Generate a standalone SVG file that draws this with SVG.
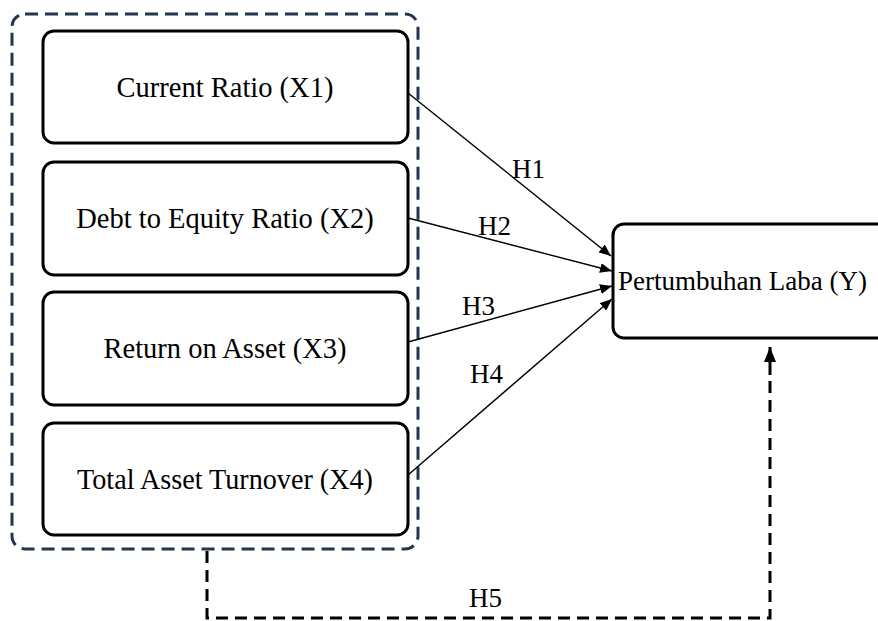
<svg xmlns="http://www.w3.org/2000/svg" width="878" height="621" viewBox="0 0 878 621">
<style>
  .node { fill: #ffffff; stroke: #000000; stroke-width: 3; }
  .lbl { font-family: "Liberation Serif", "DejaVu Serif", serif; font-size: 28.5px; fill: #000000; }
  .hl { font-family: "Liberation Serif", "DejaVu Serif", serif; font-size: 27px; fill: #000000; }
  .conn { stroke: #000000; stroke-width: 1.4; fill: none; }
  .group { fill: none; stroke: #22374f; stroke-width: 3; stroke-dasharray: 13 7; }
  .h5 { fill: none; stroke: #000000; stroke-width: 3; stroke-dasharray: 12 7; }
</style>
<defs>
  <marker id="arr" viewBox="0 0 12 10" refX="12" refY="5" markerWidth="12" markerHeight="10" markerUnits="userSpaceOnUse" orient="auto">
    <path d="M0,0 L12,5 L0,10 Z" fill="#000000"/>
  </marker>
  <marker id="arrBig" viewBox="0 0 15 12" refX="15" refY="6" markerWidth="15" markerHeight="12" markerUnits="userSpaceOnUse" orient="auto">
    <path d="M0,0 L15,6 L0,12 Z" fill="#000000"/>
  </marker>
</defs>
<rect id="group-x" class="group" x="12" y="14" width="406" height="535" rx="13" ry="13"/>
<g id="x1">
  <rect class="node" x="43" y="31" width="365" height="112" rx="11" ry="11"/>
  <text class="lbl" x="225" y="97" text-anchor="middle">Current Ratio (X1)</text>
</g>
<g id="x2">
  <rect class="node" x="43" y="162" width="365" height="113" rx="11" ry="11"/>
  <text class="lbl" x="225" y="228" text-anchor="middle">Debt to Equity Ratio (X2)</text>
</g>
<g id="x3">
  <rect class="node" x="43" y="292" width="365" height="113" rx="11" ry="11"/>
  <text class="lbl" x="225" y="358" text-anchor="middle">Return on Asset (X3)</text>
</g>
<g id="x4">
  <rect class="node" x="43" y="423" width="365" height="112" rx="11" ry="11"/>
  <text class="lbl" x="225" y="489" text-anchor="middle" textLength="296" lengthAdjust="spacingAndGlyphs">Total Asset Turnover (X4)</text>
</g>
<g id="y">
  <rect class="node" x="613" y="224" width="300" height="114" rx="11" ry="11"/>
  <text x="618" y="290" font-family="Liberation Serif, DejaVu Serif, serif" font-size="27" fill="#000000">Pertumbuhan Laba (Y)</text>
</g>
<g id="connectors">
  <line class="conn" x1="408" y1="93" x2="611" y2="256" marker-end="url(#arr)"/>
  <line class="conn" x1="408" y1="218" x2="612" y2="271" marker-end="url(#arr)"/>
  <line class="conn" x1="408" y1="342" x2="612" y2="286" marker-end="url(#arr)"/>
  <line class="conn" x1="408" y1="475" x2="612" y2="299" marker-end="url(#arr)"/>
  <path class="h5" d="M207,551 V618 H770 V380"/>
  <line x1="770" y1="375" x2="770" y2="347" stroke="#000000" stroke-width="3" marker-end="url(#arrBig)"/>
  <text class="hl" x="512" y="178">H1</text>
  <text class="hl" x="478" y="235">H2</text>
  <text class="hl" x="462" y="315">H3</text>
  <text class="hl" x="470" y="383">H4</text>
  <text class="hl" x="469" y="607">H5</text>
</g>
</svg>
